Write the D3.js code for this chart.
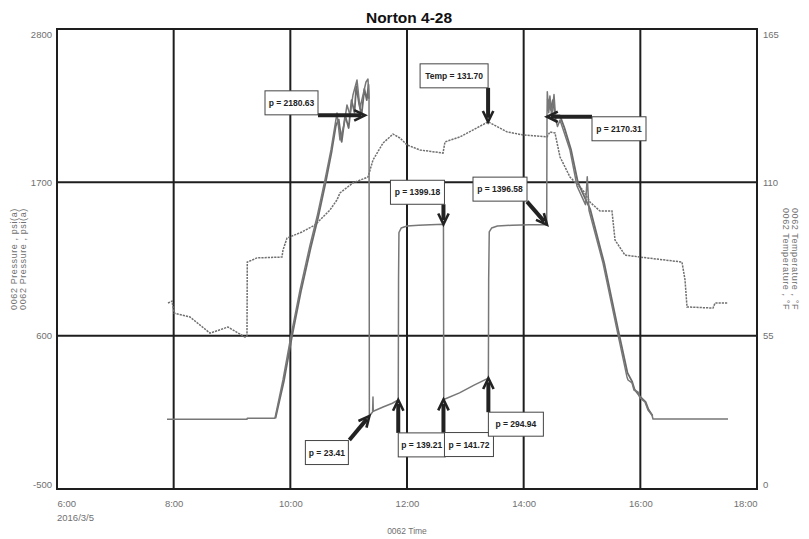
<!DOCTYPE html>
<html><head><meta charset="utf-8">
<script src="https://cdn.jsdelivr.net/npm/d3@7"></script>
<style>
body{margin:0;background:#fff}
svg{display:block}
text{font-family:"Liberation Sans",Arial,Helvetica,sans-serif}
</style>
</head><body>
<svg id="chart" width="809" height="539"></svg>
<script>
// ---------------- DATA ----------------
const chartTitle = "Norton 4-28";
const xTickHours = [6, 8, 10, 12, 14, 16, 18];
const leftTicks = [-500, 600, 1700, 2800];
const rightTicks = [0, 55, 110, 165];
const dateLabel = "2016/3/5";
const xTitle = "0062 Time";
const leftTitles = ["0062 Pressure , psi(a)", "0062 Pressure , psi(a)"];
const rightTitles = ["0062 Temperature , °F", "0062 Temperature , °F"];

// Pressure series 1 (hours, psi(a))
const pressure1Hours = [7.886, 9.257, 9.262, 9.737,
  9.874, 10.011, 10.166, 10.337, 10.457, 10.594, 10.697, 10.800, 10.851, 10.920, 10.971, 11.023, 11.074, 11.143, 11.194, 11.246, 11.297, 11.331, 11.349,
  11.355, 11.410, 11.417, 11.422, 11.60, 11.75, 11.85,
  11.855, 11.862, 11.90, 12.0, 12.2, 12.4, 12.625,
  12.630, 12.9, 13.15, 13.395,
  13.400, 13.41, 13.45, 13.55, 13.8, 14.1, 14.395,
  14.400, 14.405, 14.43, 14.45, 14.48, 14.52, 14.55, 14.58,
  14.623, 14.794, 14.914, 15.06, 15.09, 15.12, 15.360, 15.600, 15.771, 15.789, 15.857, 15.891, 15.960, 15.994, 16.080, 16.131, 16.200, 16.217, 17.503];
const pressure1Values = [0, 0, 8, 8,
  282, 598, 928, 1250, 1451, 1717, 1932, 2197, 2004, 2111, 2255, 2183, 2327, 2434, 2233, 2327, 2420, 2441, 2300,
  23.41, 52, 160, 58, 90, 115, 139.21,
  1000, 1340, 1372, 1387, 1393, 1396, 1399.18,
  141.72, 190, 245, 294.94,
  1000, 1344, 1372, 1387, 1392, 1395, 1396.58,
  2170, 2350, 2200, 2320, 2170, 2330, 2150, 2100,
  2147, 1932, 1674, 1540, 1740, 1500, 1121, 641, 304, 282, 261, 210, 196, 153, 124, 67, 31, 2, 2];

// Pressure series 2 (ramps only; null = gap)
const pressure2Hours = [9.745, 9.89, 10.03, 10.18, 10.35, 10.47, 10.61, 10.71, 10.78, 10.83, 10.88, 10.94, 11.00, 11.05, 11.10, 11.13, 11.18, 11.22, 11.27, 11.31, 11.34, 11.347,
  12.0,
  14.41, 14.46, 14.50, 14.54, 14.62, 14.70, 14.81, 14.93, 15.04, 15.14, 15.38, 15.62, 15.78, 15.86, 15.90, 16.0, 16.09, 16.14, 16.21];
const pressure2Values = [8, 275, 598, 914, 1232, 1436, 1710, 1925, 2106, 2150, 1990, 2180, 2090, 2290, 2200, 2390, 2260, 2180, 2370, 2290, 2400, 2300,
  null,
  2300, 2220, 2290, 2180, 2180, 2090, 1938, 1699, 1598, 1508, 1121, 642, 333, 270, 215, 160, 125, 70, 25];

// Temperature series (hours, °F)
const tempHours = [7.903, 7.971, 8.006, 8.280, 8.623, 8.931, 9.223, 9.257, 9.262, 9.429, 9.857, 9.874, 9.943, 10.2, 10.423, 10.680, 10.800, 10.851, 11.074, 11.331, 11.417, 11.589, 11.760, 11.88, 12.0, 12.223, 12.617, 12.651, 12.909, 13.39, 13.714, 13.989, 14.4, 14.451, 14.537, 14.623, 14.794, 15.017, 15.137, 15.309, 15.514, 15.566, 15.737, 15.994, 16.714, 16.766, 16.8, 17.246, 17.280, 17.503];
const tempValues = [66.7, 67.4, 63.1, 61.7, 55.9, 58.1, 54.5, 54.8, 81.4, 82.9, 83.2, 85.7, 90.0, 92.2, 94.7, 100.1, 103.7, 106.2, 109.8, 111.9, 118.0, 124.1, 127.3, 125.9, 123.4, 121.6, 120.5, 124.5, 126.3, 131.70, 128.1, 127.0, 126.3, 128.1, 127.7, 119.1, 111.9, 107.2, 102.9, 99.7, 99.7, 89.3, 83.9, 83.2, 81.4, 75.0, 65.3, 64.9, 66.7, 66.7];

// Annotations
const annLabels = ["p = 2180.63", "Temp = 131.70", "p = 2170.31", "p = 1399.18", "p = 1396.58", "p = 23.41", "p = 139.21", "p = 141.72", "p = 294.94"];
const annHours = [11.28, 13.39, 14.40, 12.625, 14.40, 11.355, 11.85, 12.625, 13.395];
const annValues = [2180.63, 131.70, 2170.31, 1399.18, 1396.58, 23.41, 139.21, 141.72, 294.94];
const annAxis = ["p", "T", "p", "p", "p", "p", "p", "p", "p"];

// Annotation layout (pixel offsets relative to arrow tip) — styling only
const annBoxCenter = [[-73.5, -12.5], [-34, -46], [72, 12], [-26, -32], [-47, -35.5], [-42.5, 36.5], [23.5, 45], [25.5, 45], [27.5, 46]];
const annBoxWidth = [53, 68, 54, 54, 54, 43, 47, 49, 55];
const annTail = [[-47, 0], [0, -34], [45, 0], [0, -20], [-20, -23], [-20, 24], [0, 33], [0, 33], [0, 34]];

// ---------------- CHART ----------------
const svg = d3.select("#chart");
const L = 57, R = 757, T = 29, B = 489;
const toDate = h => new Date(2016, 2, 5, 0, 0, Math.round(h * 3600));

const x = d3.scaleTime().domain([toDate(6), toDate(18)]).range([L, R]);
const yP = d3.scaleLinear().domain([-500, 2800]).range([B, T]);
const yT = d3.scaleLinear().domain([0, 165]).range([B, T]);

const gridColor = "#1e1e1e";
const labelColor = "#707070";
const plainNum = d => String(d);

// gridlines
const g = svg.append("g");
g.selectAll("line.vg").data(xTickHours.slice(1, -1)).join("line")
  .attr("x1", d => x(toDate(d))).attr("x2", d => x(toDate(d)))
  .attr("y1", T).attr("y2", B).attr("stroke", gridColor).attr("stroke-width", 2);
g.selectAll("line.hg").data(leftTicks.slice(1, -1)).join("line")
  .attr("x1", L).attr("x2", R)
  .attr("y1", d => yP(d)).attr("y2", d => yP(d)).attr("stroke", gridColor).attr("stroke-width", 2);

// series
const pLine = d3.line().defined(d => d[1] != null)
  .x(d => x(toDate(d[0]))).y(d => yP(d[1]));
const tLine = d3.line().x(d => x(toDate(d[0]))).y(d => yT(d[1]));

svg.append("path").datum(tempHours.map((h, i) => [h, tempValues[i]]))
  .attr("d", tLine).attr("fill", "none").attr("stroke", "#707070")
  .attr("stroke-width", 1.5).attr("stroke-dasharray", "2.2,1");

svg.append("path").datum(pressure2Hours.map((h, i) => [h, pressure2Values[i]]))
  .attr("d", pLine).attr("fill", "none").attr("stroke", "#6a6a6a")
  .attr("stroke-width", 1.8).attr("stroke-linejoin", "round");
svg.append("path").datum(pressure1Hours.map((h, i) => [h, pressure1Values[i]]))
  .attr("d", pLine).attr("fill", "none").attr("stroke", "#777")
  .attr("stroke-width", 1.5).attr("stroke-linejoin", "round");

// border
svg.append("rect").attr("x", L).attr("y", T).attr("width", R - L).attr("height", B - T)
  .attr("fill", "none").attr("stroke", gridColor).attr("stroke-width", 2);

// x axis
const xAx = svg.append("g").attr("transform", `translate(0,${B})`)
  .call(d3.axisBottom(x).tickValues(xTickHours.map(toDate)).tickSize(0).tickPadding(11)
    .tickFormat(d3.timeFormat("%-H:%M")));
xAx.select(".domain").remove();
xAx.selectAll("text").attr("fill", labelColor).attr("font-size", 9.5)
  .attr("font-family", "Liberation Sans, Arial, sans-serif")
  .attr("text-anchor", (d, i, n) => i === 0 ? "start" : (i === n.length - 1 ? "end" : "middle"));
svg.append("text").attr("x", L).attr("y", 521).attr("fill", labelColor)
  .attr("font-size", 9.5).text(dateLabel);
svg.append("text").attr("x", (L + R) / 2).attr("y", 534).attr("text-anchor", "middle")
  .attr("fill", labelColor).attr("font-size", 8.5).text(xTitle);

// left axis
const lAx = svg.append("g").attr("transform", `translate(${L},0)`)
  .call(d3.axisLeft(yP).tickValues(leftTicks).tickSize(0).tickPadding(5).tickFormat(plainNum));
lAx.select(".domain").remove();
lAx.selectAll("text").attr("fill", labelColor).attr("font-size", 9.5)
  .attr("font-family", "Liberation Sans, Arial, sans-serif")
  .attr("dy", (d, i) => i === 0 ? "-0.2em" : (i === leftTicks.length - 1 ? "0.9em" : "0.32em"));

// right axis
const rAx = svg.append("g").attr("transform", `translate(${R},0)`)
  .call(d3.axisRight(yT).tickValues(rightTicks).tickSize(0).tickPadding(6).tickFormat(plainNum));
rAx.select(".domain").remove();
rAx.selectAll("text").attr("fill", labelColor).attr("font-size", 9.5)
  .attr("font-family", "Liberation Sans, Arial, sans-serif")
  .attr("dy", (d, i) => i === 0 ? "-0.2em" : (i === rightTicks.length - 1 ? "0.9em" : "0.32em"));

// axis titles
const midY = (T + B) / 2;
leftTitles.forEach((t, i) => {
  svg.append("text").attr("transform", `translate(${17 + i * 9},${midY}) rotate(-90)`)
    .attr("text-anchor", "middle").attr("fill", labelColor).attr("font-size", 9)
    .attr("letter-spacing", 0.6).text(t);
});
rightTitles.forEach((t, i) => {
  svg.append("text").attr("transform", `translate(${792 - i * 9},${midY}) rotate(90)`)
    .attr("text-anchor", "middle").attr("fill", labelColor).attr("font-size", 9)
    .attr("letter-spacing", 0.6).text(t);
});

// title
svg.append("text").attr("x", 409).attr("y", 23).attr("text-anchor", "middle")
  .attr("font-size", 15.5).attr("font-weight", "bold").attr("fill", "#111").text(chartTitle);

// annotations
const annG = svg.append("g");
annLabels.forEach((lab, i) => {
  const tx = x(toDate(annHours[i]));
  const ty = annAxis[i] === "T" ? yT(annValues[i]) : yP(annValues[i]);
  const [bx, by] = annBoxCenter[i];
  const w = annBoxWidth[i], h = 24;
  const sx = tx + annTail[i][0], sy = ty + annTail[i][1];
  const ang = Math.atan2(ty - sy, tx - sx);
  const ex = tx - Math.cos(ang) * 4, ey = ty - Math.sin(ang) * 4;
  annG.append("line").attr("x1", sx).attr("y1", sy).attr("x2", ex).attr("y2", ey)
    .attr("stroke", "#222").attr("stroke-width", 4);
  const wl = 12, wa = 0.45;
  const w1 = [tx - wl * Math.cos(ang - wa), ty - wl * Math.sin(ang - wa)];
  const w2 = [tx - wl * Math.cos(ang + wa), ty - wl * Math.sin(ang + wa)];
  annG.append("path").attr("d", `M${w1[0]},${w1[1]}L${tx},${ty}L${w2[0]},${w2[1]}`)
    .attr("fill", "none").attr("stroke", "#222").attr("stroke-width", 2.6)
    .attr("stroke-linejoin", "miter");
  annG.append("rect").attr("x", tx + bx - w / 2).attr("y", ty + by - h / 2)
    .attr("width", w).attr("height", h).attr("fill", "#fff")
    .attr("stroke", "#444").attr("stroke-width", 1);
  annG.append("text").attr("x", tx + bx).attr("y", ty + by + 3)
    .attr("text-anchor", "middle").attr("font-size", 8.5).attr("font-weight", "bold")
    .attr("fill", "#222").text(lab);
});
</script>
</body></html>
